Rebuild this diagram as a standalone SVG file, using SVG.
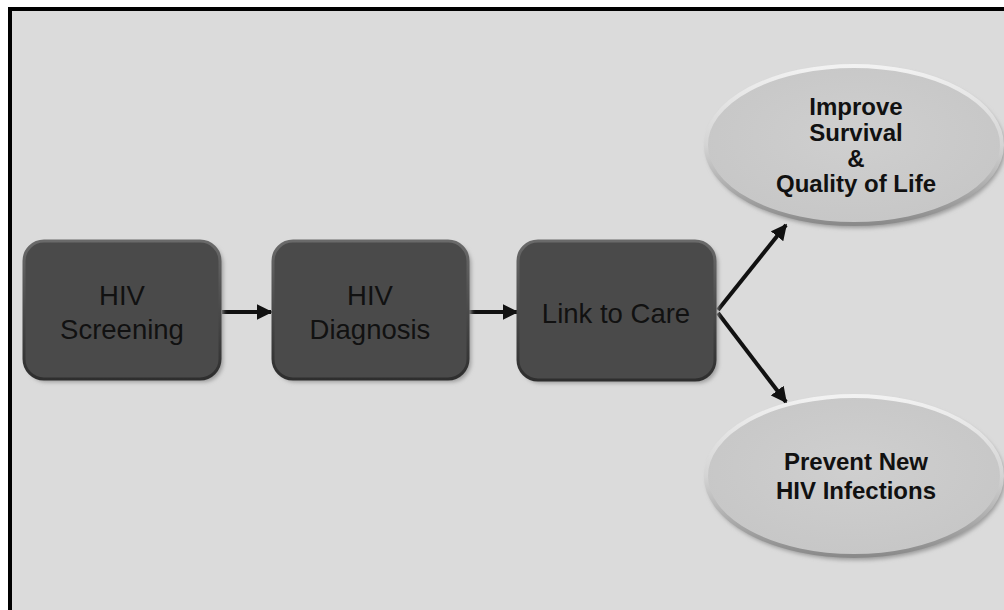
<svg xmlns="http://www.w3.org/2000/svg" width="1004" height="610" viewBox="0 0 1004 610">
<style>
.box{fill:#4a4a4a;stroke:url(#boxEdge);stroke-width:3}
.boxtxt{font-family:"Liberation Sans",Arial,sans-serif;font-size:27.5px;fill:#111;text-anchor:middle}
.ell{fill:url(#ellFill);stroke:url(#ellEdge);stroke-width:4}
.elltxt{font-family:"Liberation Sans",Arial,sans-serif;font-size:24px;font-weight:bold;fill:#111;text-anchor:middle}
.conn{stroke:#111;stroke-width:4;fill:none;marker-end:url(#ah)}
</style>
<defs>
<linearGradient id="boxEdge" x1="0" y1="0" x2="0" y2="1">
<stop offset="0" stop-color="#6a6a6a"/>
<stop offset="0.5" stop-color="#4a4a4a"/>
<stop offset="1" stop-color="#2e2e2e"/>
</linearGradient>
<linearGradient id="ellEdge" x1="0" y1="0" x2="0" y2="1">
<stop offset="0" stop-color="#f2f2f2"/>
<stop offset="0.5" stop-color="#d4d4d4"/>
<stop offset="1" stop-color="#8a8a8a"/>
</linearGradient>
<radialGradient id="ellFill" cx="0.5" cy="0.45" r="0.6">
<stop offset="0" stop-color="#cfcfcf"/>
<stop offset="1" stop-color="#c6c6c6"/>
</radialGradient>
<filter id="sh" x="-10%" y="-10%" width="130%" height="130%">
<feGaussianBlur stdDeviation="2"/>
</filter>
<marker id="ah" viewBox="0 0 10 10" refX="9" refY="5" markerWidth="4" markerHeight="4" orient="auto" markerUnits="strokeWidth">
<path d="M0,0 L10,5 L0,10 z" fill="#111"/>
</marker>
</defs>
<rect x="0" y="0" width="1004" height="610" fill="#ffffff"/>
<rect x="10" y="9" width="1000" height="610" fill="#dbdbdb" stroke="#000" stroke-width="4"/>
<g id="connectors">
<line class="conn" x1="222" y1="312" x2="271" y2="312"/>
<line class="conn" x1="469" y1="312" x2="517" y2="312"/>
<line class="conn" x1="718" y1="310" x2="786" y2="225"/>
<line class="conn" x1="718" y1="313" x2="786" y2="402"/>
</g>
<g id="n1">
<rect x="27" y="244" width="196" height="138" rx="20" fill="#9a9a9a" filter="url(#sh)"/>
<rect class="box" x="24" y="241" width="196" height="138" rx="20"/>
<text class="boxtxt" x="122" y="305">HIV</text>
<text class="boxtxt" x="122" y="339">Screening</text>
</g>
<g id="n2">
<rect x="276" y="244" width="195" height="138" rx="20" fill="#9a9a9a" filter="url(#sh)"/>
<rect class="box" x="273" y="241" width="195" height="138" rx="20"/>
<text class="boxtxt" x="370" y="305">HIV</text>
<text class="boxtxt" x="370" y="339">Diagnosis</text>
</g>
<g id="n3">
<rect x="521" y="244" width="197" height="139" rx="20" fill="#9a9a9a" filter="url(#sh)"/>
<rect class="box" x="518" y="241" width="197" height="139" rx="20"/>
<text class="boxtxt" x="616" y="322.5">Link to Care</text>
</g>
<g id="n4">
<ellipse cx="856" cy="148" rx="149" ry="80" fill="#9a9a9a" filter="url(#sh)"/>
<ellipse class="ell" cx="854" cy="145" rx="148" ry="79"/>
<text class="elltxt" x="856" y="115">Improve</text>
<text class="elltxt" x="856" y="140.5">Survival</text>
<text class="elltxt" x="856" y="166.5">&amp;</text>
<text class="elltxt" x="856" y="192">Quality of Life</text>
</g>
<g id="n5">
<ellipse cx="856" cy="479" rx="149" ry="81" fill="#9a9a9a" filter="url(#sh)"/>
<ellipse class="ell" cx="854" cy="476" rx="148" ry="80"/>
<text class="elltxt" x="856" y="470">Prevent New</text>
<text class="elltxt" x="856" y="499">HIV Infections</text>
</g>
</svg>
